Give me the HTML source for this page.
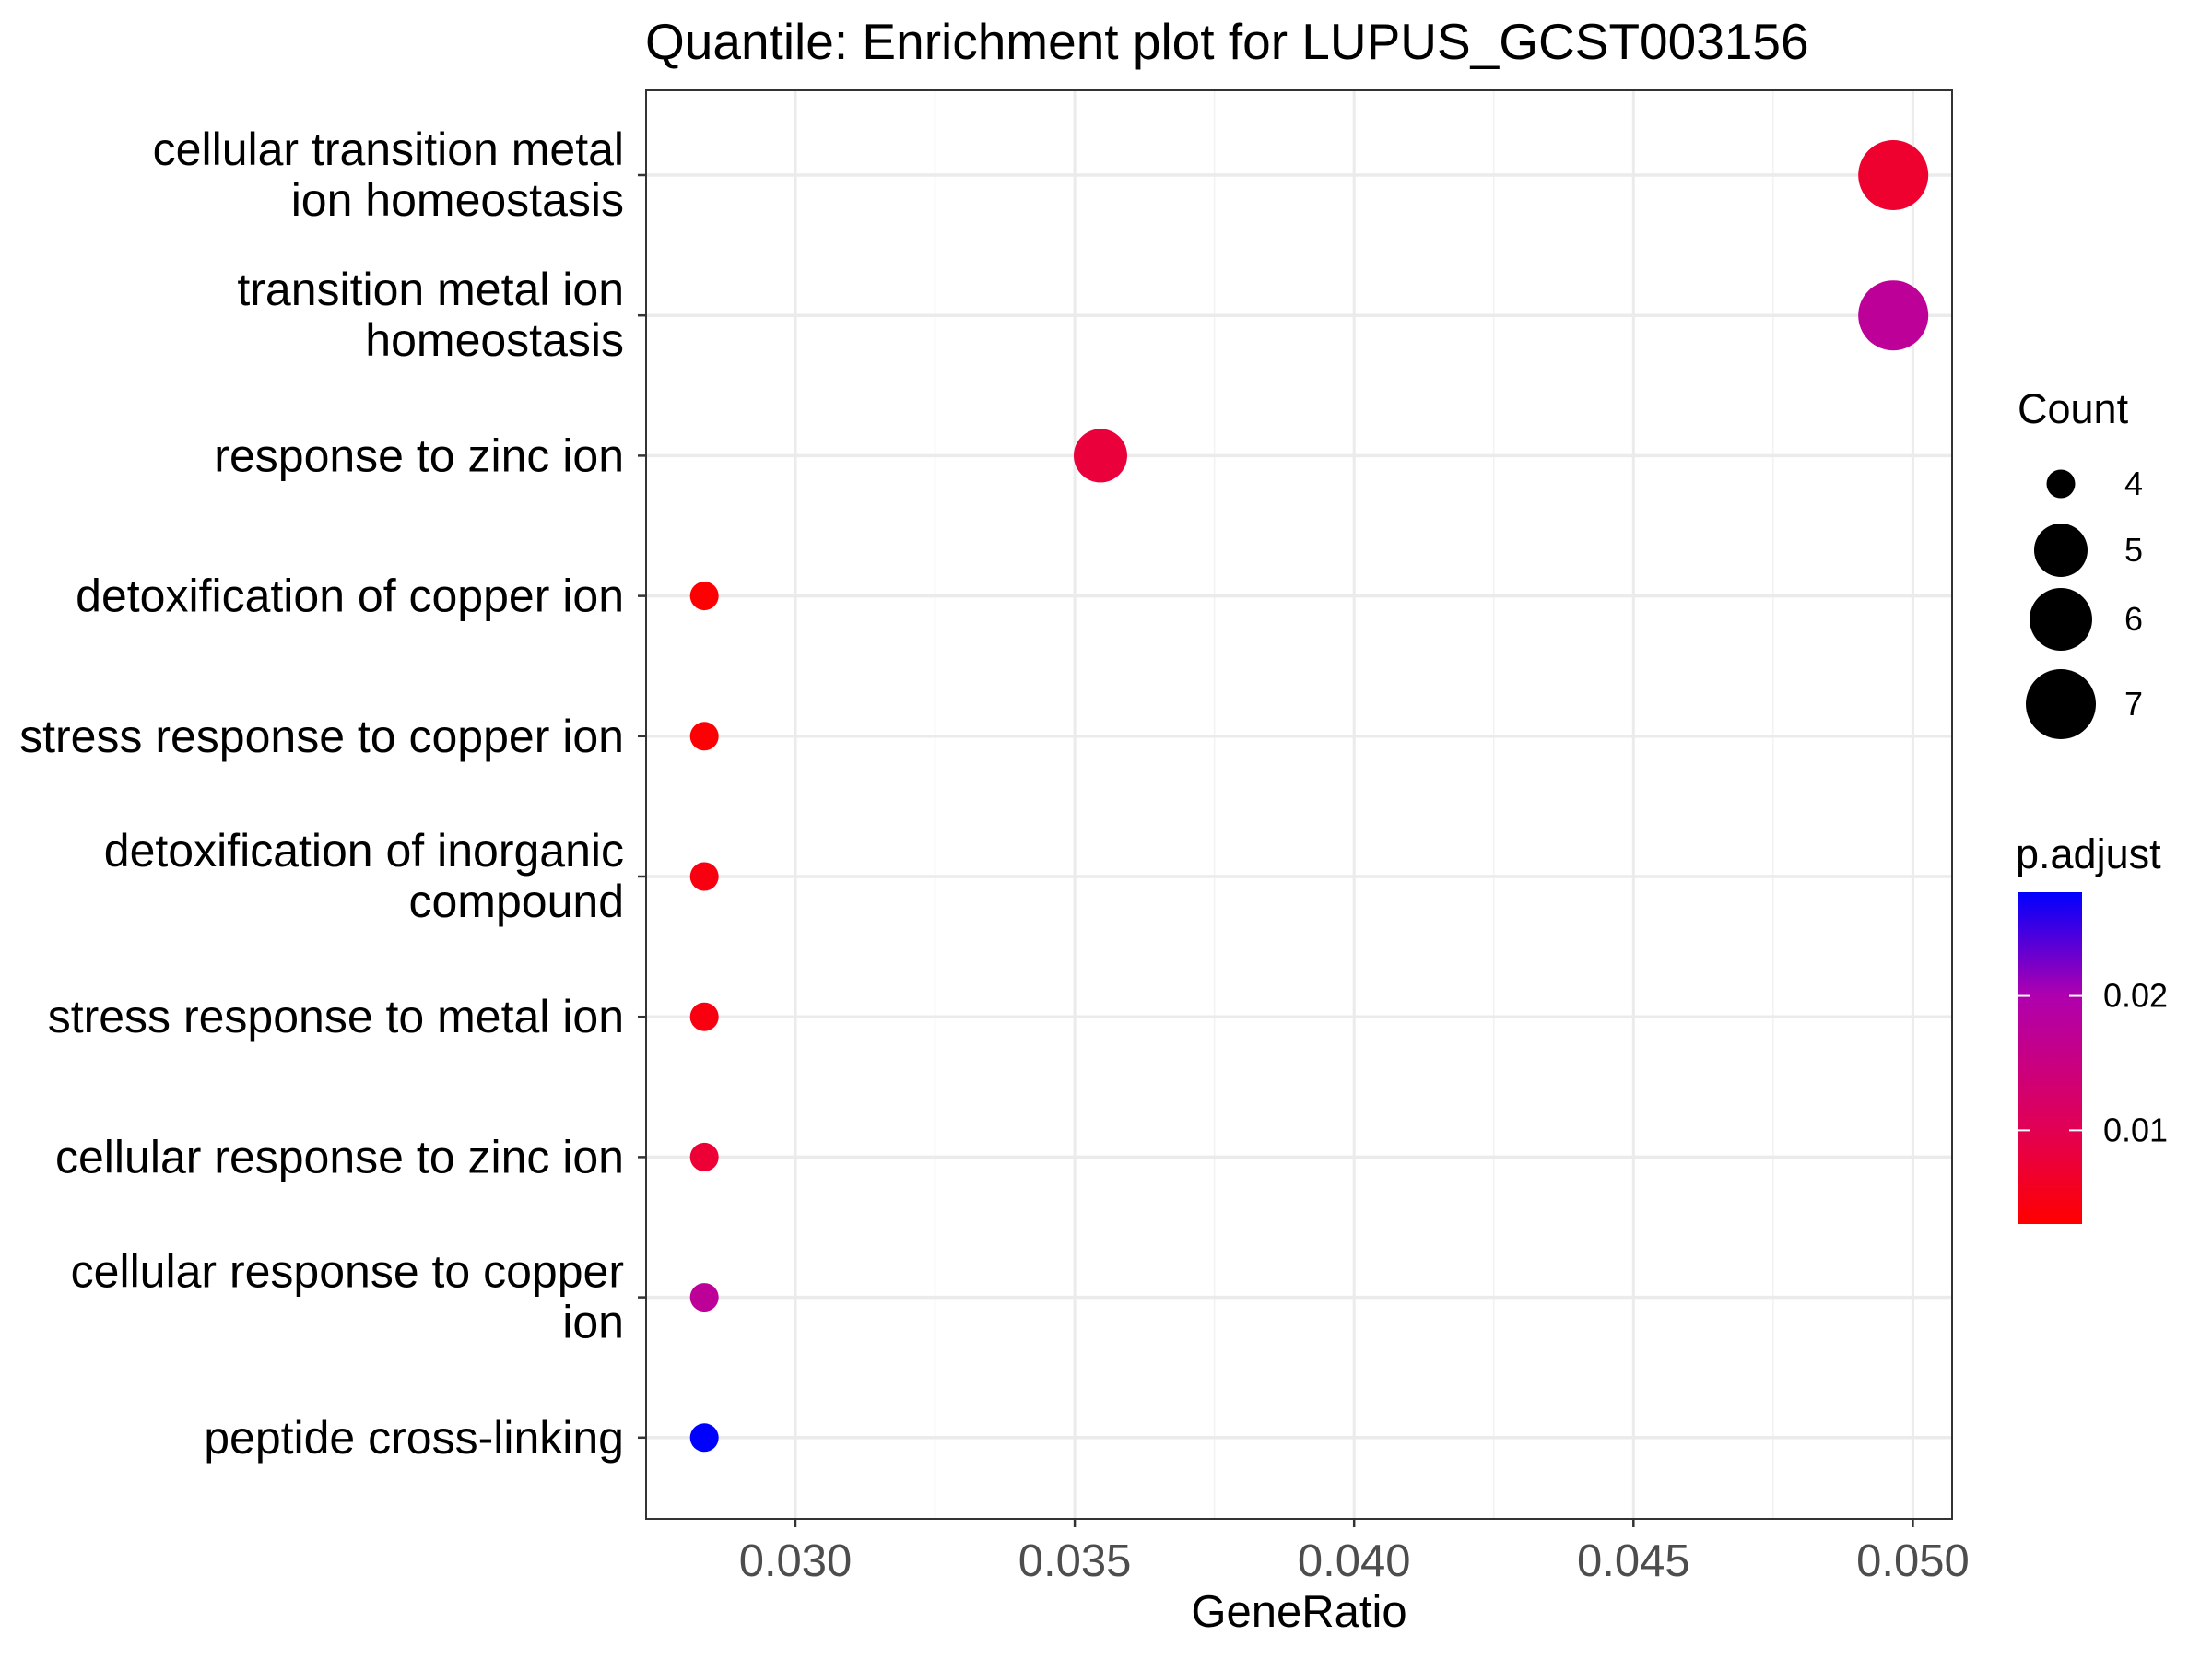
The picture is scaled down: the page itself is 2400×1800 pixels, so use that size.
<!DOCTYPE html>
<html><head><meta charset="utf-8"><style>
html,body{margin:0;padding:0;background:#fff;}
svg{display:block;font-family:"Liberation Sans",sans-serif;}
</style></head><body>
<svg id="chart" width="2400" height="1800" viewBox="0 0 2400 1800" xmlns="http://www.w3.org/2000/svg">
<rect width="2400" height="1800" fill="#fff"/>
<text x="700" y="64" font-size="55" fill="#000">Quantile: Enrichment plot for LUPUS_GCST003156</text>
<g id="grid"></g><g id="pts"></g><g id="axes"></g><g id="legend"></g>
</svg>
<script>
const categories = [
 ["cellular transition metal","ion homeostasis"],
 ["transition metal ion","homeostasis"],
 ["response to zinc ion"],
 ["detoxification of copper ion"],
 ["stress response to copper ion"],
 ["detoxification of inorganic","compound"],
 ["stress response to metal ion"],
 ["cellular response to zinc ion"],
 ["cellular response to copper","ion"],
 ["peptide cross-linking"]
];
const geneRatio = [0.04965,0.04965,0.03546,0.02837,0.02837,0.02837,0.02837,0.02837,0.02837,0.02837];
const counts = [7,7,5,4,4,4,4,4,4,4];
const padj = [0.0070,0.0175,0.0080,0.0032,0.0034,0.0045,0.0045,0.0075,0.0175,0.0277];
const xTicks = [0.030,0.035,0.040,0.045,0.050];
const xTickLabels = ["0.030","0.035","0.040","0.045","0.050"];
const sizeLegend = [4,5,6,7];
const colorTicks = [0.01,0.02];
const colorTickLabels = ["0.01","0.02"];

const NS="http://www.w3.org/2000/svg";
const L=701,R=2118,T=98,B=1648;
const xScale=v=>863+(v-0.030)/0.005*303.1;
const yScale=i=>190+i*152.2;
const rScale=c=>({4:15.5,5:29,6:34,7:38})[c] || (15.5+(c-4)*7.5);
const pMin=0.00303,pMax=0.02772;
function lerp(a,b,t){return a+(b-a)*t;}
const stops=[[0,[255,0,0]],[0.29,[225,0,85]],[0.69,[175,0,175]],[1,[0,0,255]]];
function colorScale(p){let t=Math.max(0,Math.min(1,(p-pMin)/(pMax-pMin)));
 for(let k=0;k<stops.length-1;k++){const[a,ca]=stops[k],[b,cb]=stops[k+1];
  if(t<=b){const u=(t-a)/(b-a);return `rgb(${ca.map((c,j)=>Math.round(lerp(c,cb[j],u))).join(',')})`;}}
 return 'rgb(0,0,255)';}
function el(tag,attrs,parent){const e=document.createElementNS(NS,tag);for(const k in attrs)e.setAttribute(k,attrs[k]);parent.appendChild(e);return e;}
const grid=document.getElementById('grid'),pts=document.getElementById('pts'),axes=document.getElementById('axes'),leg=document.getElementById('legend');
for(let k=0;k<xTicks.length-1;k++){const x=xScale((xTicks[k]+xTicks[k+1])/2);
 const g=el('line',{x1:x,x2:x,y1:T,y2:B,stroke:'#F2F2F2','stroke-width':1.5},grid);
 
 }
xTicks.forEach(v=>{const x=xScale(v);
 const g=el('line',{x1:x,x2:x,y1:T,y2:B,stroke:'#EBEBEB','stroke-width':3},grid);
 
 });
categories.forEach((c,i)=>{const y=yScale(i);
 const g=el('line',{x1:L,x2:R,y1:y,y2:y,stroke:'#EBEBEB','stroke-width':3.5},grid);
 
 });
categories.forEach((c,i)=>{
 const p=el('circle',{cx:xScale(geneRatio[i]),cy:yScale(i),r:rScale(counts[i]),fill:colorScale(padj[i])},pts);
 
 });
const br=el('rect',{x:L,y:T,width:R-L,height:B-T,fill:'none',stroke:'#333','stroke-width':2},axes);


categories.forEach((c,i)=>{const y=yScale(i);
 const tk=el('line',{x1:692,x2:L,y1:y,y2:y,stroke:'#333','stroke-width':2.5},axes);
 
 
 const t=el('text',{x:677,'text-anchor':'end','font-size':50,fill:'#000'},axes);
 
 
 const n=c.length,start=n>1?y-11:y+17;
 c.forEach((line,j)=>{const ts=el('tspan',{x:677,y:start+j*55},t);ts.textContent=line;});});
xTicks.forEach((v,k)=>{const x=xScale(v);
 const tk=el('line',{x1:x,x2:x,y1:B,y2:B+9,stroke:'#333','stroke-width':2.5},axes);
 
 
 const t=el('text',{x:x,y:1710,'text-anchor':'middle','font-size':49,fill:'#4D4D4D'},axes);
 
 
 t.textContent=xTickLabels[k];});
const xt=el('text',{x:(L+R)/2,y:1765,'text-anchor':'middle','font-size':49,fill:'#000'},axes);


xt.textContent='GeneRatio';
const ct=el('text',{x:2189,y:459,'font-size':45,fill:'#000'},leg);


ct.textContent='Count';
const sizeY=[525,597,672,764];
sizeLegend.forEach((c,k)=>{
 const d=el('circle',{cx:2236,cy:sizeY[k],r:rScale(c),fill:'#000'},leg);
 
 
 const t=el('text',{x:2305,y:sizeY[k]+12,'font-size':36,fill:'#000'},leg);
 
 
 t.textContent=c;});
const pt=el('text',{x:2187,y:942,'font-size':45,fill:'#000'},leg);


pt.textContent='p.adjust';
const defs=el('defs',{},leg);
const lg=el('linearGradient',{id:'cg',x1:0,y1:1,x2:0,y2:0},defs);
stops.forEach(([o,c])=>el('stop',{offset:o,'stop-color':`rgb(${c.join(',')})`},lg));
const CB_T=968,CB_B=1328;
const cb=el('rect',{x:2189,y:CB_T,width:70,height:CB_B-CB_T,fill:'url(#cg)'},leg);


const cy=v=>CB_B-(v-pMin)/(pMax-pMin)*(CB_B-CB_T);
colorTicks.forEach((v,k)=>{const y=cy(v);
 el('line',{x1:2189,x2:2203,y1:y,y2:y,stroke:'#fff','stroke-width':2},leg);
 el('line',{x1:2245,x2:2259,y1:y,y2:y,stroke:'#fff','stroke-width':2},leg);
 const t=el('text',{x:2282,y:y+12,'font-size':36,fill:'#000'},leg);
 
 
 t.textContent=colorTickLabels[k];});
</script>
</body></html>
